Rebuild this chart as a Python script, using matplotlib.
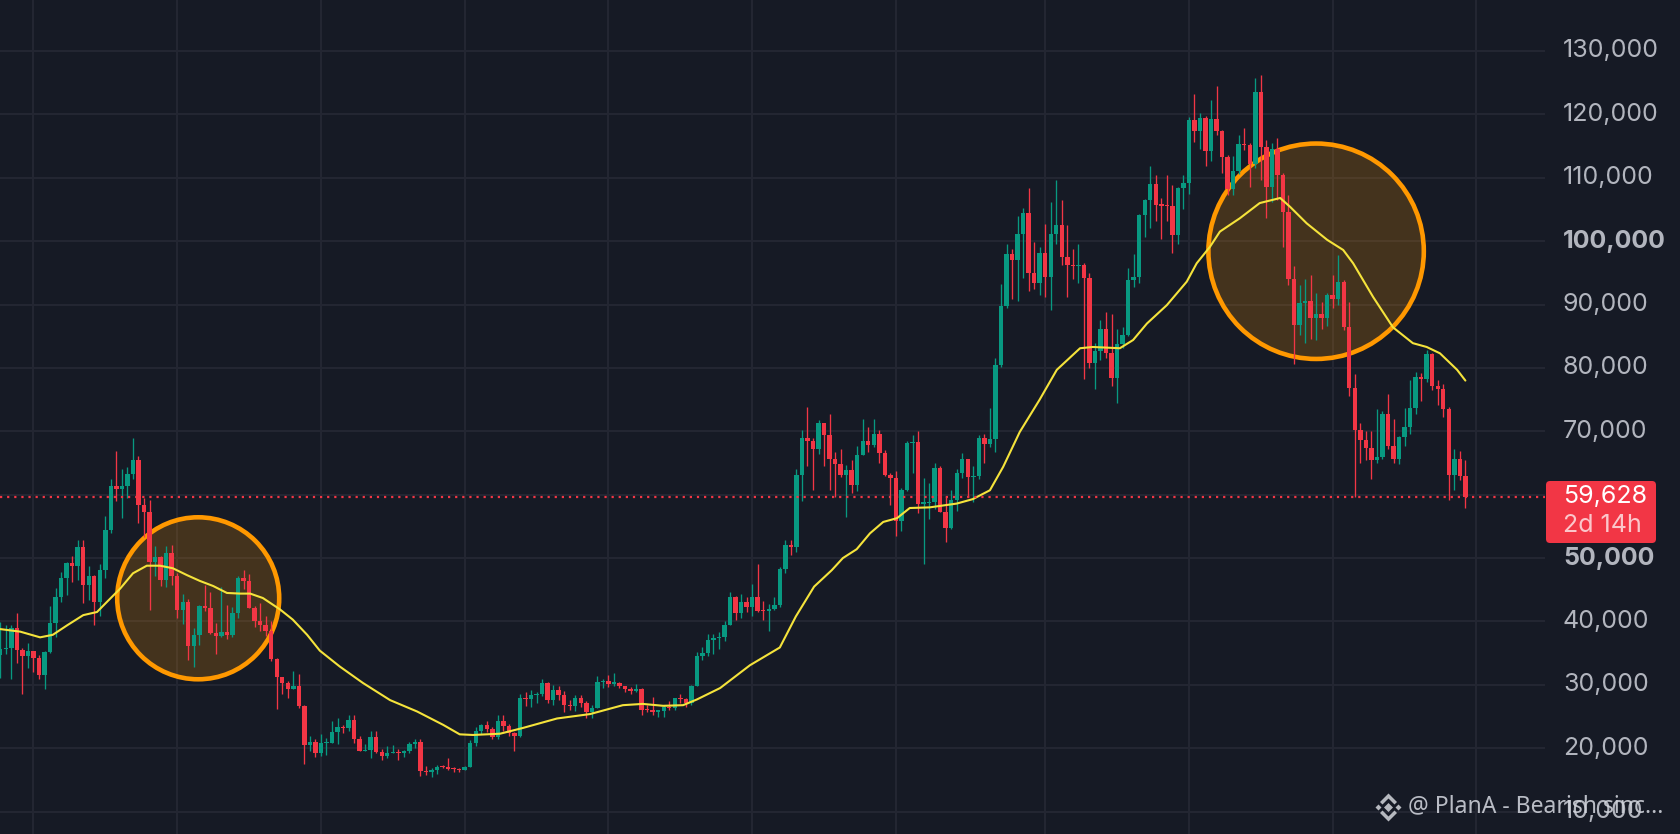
import matplotlib
matplotlib.use("Agg")
import matplotlib.pyplot as plt
import numpy as np
import pandas as pd
from matplotlib.patches import Ellipse, FancyBboxPatch, Polygon
from matplotlib.transforms import blended_transform_factory, IdentityTransform

# weekly candles, prices in thousands of USD, first bar = week of 2021-05-24
opens = [
    34.7, 35.6, 35.8, 39.0, 35.5, 34.5, 35.3, 34.3, 31.6, 35.2,
    39.8, 43.8, 46.8, 49.2, 48.8, 51.8, 45.8, 47.2, 43.0, 48.1,
    54.5, 61.4, 60.9, 61.3, 63.3, 65.5, 58.4, 57.2, 49.4, 50.1,
    46.5, 50.8, 47.2, 41.8, 43.1, 36.2, 37.9, 42.4, 42.2, 38.2,
    37.7, 38.4, 37.8, 41.3, 46.8, 46.4, 42.2, 40.0, 39.4, 38.5,
    34.1, 31.3, 30.3, 29.4, 29.9, 26.6, 20.5, 21.0, 19.2, 20.8,
    20.8, 22.6, 23.3, 23.2, 24.4, 21.5, 19.6, 19.8, 21.8, 19.4,
    18.8, 19.3, 19.4, 19.2, 19.6, 20.6, 21.0, 16.4, 16.3, 16.5,
    17.1, 17.0, 16.8, 16.7, 16.6, 17.1, 20.8, 22.7, 23.7, 23.0,
    21.8, 24.3, 23.5, 22.4, 22.0, 27.9, 27.7, 28.4, 28.5, 30.3,
    27.6, 29.2, 28.4, 26.8, 26.7, 28.0, 27.1, 25.8, 26.3, 30.5,
    30.6, 30.2, 30.3, 29.9, 29.3, 29.0, 29.4, 26.1, 26.0, 25.8,
    25.9, 26.5, 26.3, 27.9, 27.8, 27.1, 29.9, 34.5, 35.0, 37.1,
    37.4, 37.5, 39.5, 43.8, 41.4, 43.0, 42.3, 43.9, 41.7, 41.6,
    42.0, 42.6, 48.3, 52.1, 51.7, 63.1, 68.9, 68.4, 67.2, 71.3,
    69.4, 65.7, 64.9, 63.1, 63.9, 61.5, 66.3, 68.5, 67.8, 69.6,
    66.5, 63.1, 62.7, 55.8, 60.8, 68.2, 68.3, 58.6, 58.7, 58.9,
    64.2, 57.3, 54.8, 59.1, 63.4, 65.6, 62.8, 62.9, 69.0, 68.0,
    68.8, 80.4, 89.8, 98.0, 97.0, 101.1, 104.5, 94.9, 93.4, 98.2,
    94.4, 101.1, 102.5, 97.5, 96.3, 96.0, 96.2, 94.2, 80.7, 82.6,
    86.1, 82.4, 78.4, 83.8, 85.2, 93.8, 94.3, 104.1, 106.5, 109.0,
    105.7, 105.6, 105.5, 100.9, 108.4, 109.2, 119.1, 117.3, 119.4, 114.2,
    119.3, 117.4, 113.3, 108.2, 111.1, 115.3, 115.2, 112.2, 123.5, 114.9,
    108.6, 114.6, 110.4, 104.6, 94.1, 86.7, 90.3, 90.5, 87.8, 88.5,
    87.8, 91.5, 90.8, 93.6, 86.4, 76.8, 70.2, 68.6, 67.3, 65.5,
    66.0, 72.7, 67.7, 65.7, 69.1, 70.6, 73.6, 78.6, 78.3, 82.2,
    77.1, 76.6, 73.5, 63.1, 65.6, 63.0,
]
highs = [
    39.9, 39.5, 39.5, 41.3, 35.8, 36.6, 35.4, 34.7, 35.4, 42.4,
    45.3, 47.8, 49.4, 50.4, 52.9, 52.9, 48.8, 47.4, 49.1, 56.6,
    62.5, 66.9, 64.0, 64.3, 68.9, 66.1, 59.4, 59.2, 51.9, 50.3,
    51.9, 52.1, 47.6, 44.4, 43.5, 38.9, 42.6, 45.8, 44.7, 39.8,
    45.4, 42.6, 42.3, 47.2, 48.2, 47.5, 42.4, 42.9, 40.8, 40.0,
    34.3, 31.3, 30.6, 32.2, 31.7, 26.9, 21.9, 21.5, 22.3, 21.6,
    24.3, 24.7, 23.6, 25.2, 25.2, 22.0, 20.6, 22.8, 22.7, 19.9,
    20.4, 20.5, 19.9, 19.7, 21.0, 21.5, 21.5, 17.2, 16.9, 17.3,
    17.4, 18.4, 17.0, 16.9, 17.2, 21.3, 23.4, 23.9, 24.3, 23.4,
    25.3, 25.2, 23.9, 22.6, 28.5, 28.9, 29.2, 28.8, 31.0, 30.5,
    30.0, 29.8, 29.0, 27.6, 28.4, 28.4, 27.4, 26.8, 31.4, 31.0,
    31.5, 31.8, 30.4, 29.9, 29.6, 30.2, 29.5, 26.8, 28.1, 26.1,
    26.9, 27.5, 28.0, 28.6, 28.0, 30.0, 35.2, 35.9, 38.0, 38.0,
    38.4, 40.0, 44.7, 44.0, 44.4, 43.8, 45.9, 49.0, 43.3, 42.8,
    43.9, 48.6, 52.8, 52.9, 64.0, 70.2, 73.8, 68.9, 71.8, 71.3,
    72.8, 66.8, 67.2, 64.7, 65.5, 67.7, 71.9, 70.6, 71.9, 70.2,
    67.0, 63.4, 63.8, 61.0, 68.4, 69.4, 70.0, 62.7, 61.8, 65.0,
    64.5, 59.8, 60.7, 64.1, 66.5, 65.6, 64.5, 69.4, 69.5, 73.6,
    81.5, 93.3, 99.6, 98.7, 104.0, 105.3, 108.3, 99.9, 99.0, 102.7,
    106.2, 109.6, 106.5, 102.5, 98.8, 99.5, 96.5, 95.0, 84.0, 87.5,
    88.8, 88.5, 86.1, 86.5, 95.8, 97.9, 104.3, 106.7, 111.9, 110.4,
    106.8, 110.5, 108.9, 108.5, 110.5, 119.5, 123.2, 120.2, 119.8, 122.3,
    124.5, 117.6, 113.6, 113.4, 116.7, 117.9, 115.5, 125.7, 126.2, 115.9,
    115.5, 116.2, 110.7, 107.3, 96.0, 93.1, 94.1, 94.7, 91.8, 90.4,
    91.8, 94.7, 97.8, 93.9, 90.4, 79.1, 71.3, 70.0, 70.0, 73.5,
    73.2, 75.9, 71.9, 69.3, 73.6, 78.1, 79.3, 79.2, 82.9, 82.4,
    78.1, 77.5, 73.9, 67.2, 66.9, 65.5,
]
lows = [
    31.1, 34.8, 31.0, 33.4, 28.6, 32.7, 32.1, 31.0, 29.3, 35.1,
    37.6, 43.0, 44.2, 46.3, 46.5, 42.9, 43.4, 39.5, 40.9, 46.9,
    53.9, 59.0, 56.4, 59.4, 62.5, 55.5, 53.4, 41.8, 47.1, 45.6,
    45.5, 45.7, 40.5, 39.6, 34.0, 32.9, 36.3, 41.7, 38.0, 34.8,
    37.5, 37.2, 37.6, 40.5, 45.2, 42.1, 39.2, 38.5, 37.7, 33.7,
    26.2, 28.6, 28.0, 29.3, 26.3, 17.6, 19.6, 18.6, 18.8, 18.9,
    20.8, 20.7, 22.4, 22.7, 20.8, 19.5, 19.5, 18.5, 19.3, 18.1,
    18.5, 19.2, 18.2, 18.7, 19.3, 20.0, 15.6, 15.8, 15.5, 16.0,
    16.9, 16.6, 16.3, 16.3, 16.5, 17.1, 20.4, 22.3, 22.5, 21.4,
    21.4, 22.8, 21.9, 19.5, 21.8, 26.6, 26.5, 27.2, 28.2, 27.1,
    26.9, 27.6, 25.8, 26.1, 25.9, 26.5, 24.8, 24.8, 26.3, 29.5,
    29.7, 29.9, 29.5, 28.9, 28.6, 28.8, 25.2, 25.8, 25.3, 24.9,
    24.9, 26.1, 26.0, 27.2, 26.5, 26.9, 29.8, 33.9, 34.5, 34.8,
    35.6, 36.9, 39.5, 40.2, 40.5, 41.5, 40.8, 41.5, 40.3, 38.5,
    41.8, 42.3, 47.7, 50.5, 50.9, 59.0, 64.5, 60.8, 66.4, 64.5,
    60.7, 59.6, 62.8, 56.5, 60.2, 60.6, 66.3, 66.7, 67.6, 65.0,
    63.0, 58.4, 53.5, 54.3, 60.6, 63.4, 57.1, 49.1, 56.1, 57.8,
    57.2, 52.6, 54.6, 57.5, 62.7, 59.8, 58.9, 62.4, 65.0, 67.5,
    66.8, 80.2, 89.4, 90.8, 90.5, 94.2, 92.2, 92.5, 91.5, 91.2,
    89.2, 99.5, 96.2, 91.2, 94.1, 93.4, 78.2, 80.0, 76.6, 81.3,
    81.6, 77.2, 74.5, 83.1, 85.1, 92.8, 93.4, 100.7, 102.0, 103.1,
    100.4, 103.1, 98.2, 99.6, 105.1, 107.5, 115.7, 114.5, 111.9, 112.6,
    116.8, 110.7, 107.3, 107.3, 110.6, 114.4, 108.6, 111.6, 109.6, 103.6,
    106.2, 106.5, 99.1, 93.1, 80.6, 85.2, 83.9, 84.5, 84.4, 86.2,
    86.6, 89.4, 89.9, 85.9, 75.5, 59.7, 65.0, 65.5, 62.4, 65.0,
    65.6, 67.2, 65.0, 64.9, 67.7, 69.6, 72.8, 74.8, 77.8, 76.5,
    74.2, 72.3, 59.2, 60.7, 62.3, 57.9,
]
closes = [
    35.6, 35.8, 39.0, 35.5, 34.5, 35.3, 34.3, 31.6, 35.2, 39.8,
    43.8, 46.8, 49.2, 48.8, 51.8, 45.8, 47.2, 43.0, 48.1, 54.5,
    61.4, 60.9, 61.3, 63.3, 65.5, 58.4, 57.2, 49.4, 50.1, 46.5,
    50.8, 47.2, 41.8, 43.1, 36.2, 37.9, 42.4, 42.2, 38.2, 37.7,
    38.4, 37.8, 41.3, 46.8, 46.4, 42.2, 40.0, 39.4, 38.5, 34.1,
    31.3, 30.3, 29.4, 29.9, 26.6, 20.5, 21.0, 19.2, 20.8, 20.8,
    22.6, 23.3, 23.2, 24.4, 21.5, 19.6, 19.8, 21.8, 19.4, 18.8,
    19.3, 19.4, 19.2, 19.6, 20.6, 21.0, 16.4, 16.3, 16.5, 17.1,
    17.0, 16.8, 16.7, 16.6, 17.1, 20.8, 22.7, 23.7, 23.0, 21.8,
    24.3, 23.5, 22.4, 22.0, 27.9, 27.7, 28.4, 28.5, 30.3, 27.6,
    29.2, 28.4, 26.8, 26.7, 28.0, 27.1, 25.8, 26.3, 30.5, 30.6,
    30.2, 30.3, 29.9, 29.3, 29.0, 29.4, 26.1, 26.0, 25.8, 25.9,
    26.5, 26.3, 27.9, 27.8, 27.1, 29.9, 34.5, 35.0, 37.1, 37.4,
    37.5, 39.5, 43.8, 41.4, 43.0, 42.3, 43.9, 41.7, 41.6, 42.0,
    42.6, 48.3, 52.1, 51.7, 63.1, 68.9, 68.4, 67.2, 71.3, 69.4,
    65.7, 64.9, 63.1, 63.9, 61.5, 66.3, 68.5, 67.8, 69.6, 66.5,
    63.1, 62.7, 55.8, 60.8, 68.2, 68.3, 58.6, 58.7, 58.9, 64.2,
    57.3, 54.8, 59.1, 63.4, 65.6, 62.8, 62.9, 69.0, 68.0, 68.8,
    80.4, 89.8, 98.0, 97.0, 101.1, 104.5, 94.9, 93.4, 98.2, 94.4,
    101.1, 102.5, 97.5, 96.3, 96.0, 96.2, 94.2, 80.7, 82.6, 86.1,
    82.4, 78.4, 83.8, 85.2, 93.8, 94.3, 104.1, 106.5, 109.0, 105.7,
    105.6, 105.5, 100.9, 108.4, 109.2, 119.1, 117.3, 119.4, 114.2, 119.3,
    117.4, 113.3, 108.2, 111.1, 115.3, 115.2, 112.2, 123.5, 114.9, 108.6,
    114.6, 110.4, 104.6, 94.1, 86.7, 90.3, 90.5, 87.8, 88.5, 87.8,
    91.5, 90.8, 93.6, 86.4, 76.8, 70.2, 68.6, 67.3, 65.5, 66.0,
    72.7, 67.7, 65.7, 69.1, 70.6, 73.6, 78.6, 78.3, 82.2, 77.1,
    76.6, 73.5, 63.1, 65.6, 63.0, 59.628,
]

# yellow moving average at these week positions
ma_weeks = [
    0.0, 3.6, 7.2, 9.5, 12.1, 15.0, 17.5, 19.3, 21.7, 24.0,
    26.5, 28.9, 31.2, 33.8, 36.1, 38.5, 41.0, 43.4, 45.2, 47.5,
    50.6, 52.9, 55.5, 57.8, 61.4, 65.6, 70.5, 75.4, 80.1, 83.1,
    85.5, 90.4, 94.5, 100.7, 106.7, 112.6, 116.2, 119.9, 123.5, 126.0,
    130.2, 135.6, 141.0, 143.9, 147.2, 150.4, 152.4, 154.9, 157.3, 159.7,
    162.2, 164.5, 168.1, 173.0, 175.9, 179.0, 181.4, 184.4, 188.0, 191.1,
    195.3, 197.6, 202.5, 204.9, 207.4, 211.0, 214.6, 216.4, 218.8, 220.6,
    224.2, 227.8, 231.5, 233.3, 236.3, 240.0, 242.9, 244.7, 248.3, 251.9,
    255.5, 258.0, 260.4, 263.5, 265.0,
]
ma_values = [
    38.8, 38.4, 37.5, 37.9, 39.4, 41.0, 41.5, 43.1, 45.2, 47.6,
    48.8, 48.8, 48.4, 47.3, 46.4, 45.6, 44.5, 44.4, 44.4, 43.7,
    41.9, 40.3, 37.9, 35.4, 32.9, 30.3, 27.6, 25.8, 23.7, 22.2,
    22.1, 22.3, 23.2, 24.7, 25.4, 26.8, 27.0, 26.7, 26.8, 27.7,
    29.5, 33.1, 35.9, 40.8, 45.5, 48.1, 50.0, 51.4, 53.9, 55.7,
    56.3, 57.9, 58.0, 58.6, 59.3, 60.7, 64.4, 69.9, 75.0, 79.7,
    83.1, 83.3, 83.1, 84.4, 87.0, 89.9, 93.6, 96.5, 99.1, 101.5,
    103.6, 106.0, 106.8, 105.4, 102.8, 100.2, 98.6, 96.5, 91.2, 86.4,
    83.9, 83.3, 82.3, 79.7, 78.0,
]

price_ticks = [10, 20, 30, 40, 50, 60, 70, 80, 90, 100, 110, 120, 130]
bold_ticks = [50, 100]
last_price = 59.628
countdown = "2d 14h"
watermark = "@ PlanA - Bearish sinc..."

BG = "#161a25"
GRID = "#242733"
UP = "#089981"
DOWN = "#f23645"
MA_COLOR = "#f5e33b"
RING = "#ff9800"
LABEL = "#b2b5be"

plt.rcParams["font.family"] = ["Inter", "DejaVu Sans"]

W, H = 1680, 834
fig = plt.figure(figsize=(W / 100, H / 100), dpi=100, facecolor=BG)
plot_w = 1545
ax = fig.add_axes([0, 0, plot_w / W, 1])
ax.set_facecolor(BG)
x0, x1 = -0.05, 279.4
y0, y1 = 6.48, 138.03
ax.set_xlim(x0, x1)
ax.set_ylim(y0, y1)

# half-year grid lines sit on the first weekly bar of January / July
weeks = pd.date_range("2021-05-24", periods=len(closes) + 4, freq="7D")
grid_x = [i for i in range(1, len(weeks))
          if weeks[i].month in (1, 7) and weeks[i].month != weeks[i - 1].month]
ax.set_xticks(grid_x)
ax.set_yticks(price_ticks)
ax.tick_params(length=0, labelbottom=False, labelleft=False)
ax.grid(True, color=GRID, lw=1.4)
ax.set_axisbelow(True)
for s in ax.spines.values():
    s.set_visible(False)

# highlight circles (kept round on screen)
sx = plot_w / (x1 - x0)
sy = H / (y1 - y0)
for cx, cy, r in [(35.8, 43.66, 81.0), (238.0, 98.4, 107.7)]:
    ax.add_patch(Ellipse((cx, cy), 2 * r / sx, 2 * r / sy,
                         facecolor=(1.0, 0.596, 0.0, 0.2), edgecolor=RING,
                         lw=3.3, zorder=2))

# candles
idx = np.arange(len(closes))
o, h, l, c = (np.array(a) for a in (opens, highs, lows, closes))
colors = np.where(c >= o, UP, DOWN)
ax.vlines(idx, l, h, colors=colors, lw=0.95, zorder=3)
body_lo = np.minimum(o, c)
body_h = np.maximum(np.abs(c - o), 0.18)
ax.bar(idx, body_h, bottom=body_lo, width=0.8, color=colors, lw=0, zorder=4)

ax.plot(ma_weeks, ma_values, color=MA_COLOR, lw=1.5, zorder=5,
        solid_joinstyle="round", solid_capstyle="round")
ax.axhline(last_price, color=DOWN, lw=1.6, linestyle=(0, (1, 2.2)), zorder=5)

# price scale labels
tr = blended_transform_factory(fig.transFigure, ax.transData)
for v in price_ticks:
    ax.text(1563 / W, v, f"{v * 1000:,.0f}", transform=tr, ha="left", va="center",
            fontsize=18, color=LABEL, clip_on=False,
            fontweight="bold" if v in bold_ticks else "normal")

# last price tag
box = FancyBboxPatch((1546, H - 543), 110, 62, boxstyle="round,pad=0,rounding_size=4",
                     facecolor=DOWN, edgecolor="none", transform=IdentityTransform(), zorder=5)
fig.add_artist(box)
fig.text(1563 / W, 1 - 497 / H, f"{last_price * 1000:,.0f}", color="white",
         fontsize=18, va="center", ha="left", zorder=6)
fig.text(1563 / W, 1 - 525 / H, countdown, color=(1, 1, 1, 0.72),
         fontsize=18, va="center", ha="left", zorder=6)

# watermark with logo
def px(x, y):
    return (x / W, 1 - y / H)

cx, cy = 1388.5, 807.5
logo = [
    [(cx, cy - 4.5), (cx + 4.5, cy), (cx, cy + 4.5), (cx - 4.5, cy)],
    [(cx - 10, cy - 3), (cx - 7, cy), (cx - 10, cy + 3), (cx - 13, cy)],
    [(cx + 10, cy - 3), (cx + 13, cy), (cx + 10, cy + 3), (cx + 7, cy)],
]
chev = [(0, -14), (8.5, -5.5), (6, -3), (0, -9), (-6, -3), (-8.5, -5.5)]
logo.append([(cx + dx, cy + dy) for dx, dy in chev])
logo.append([(cx + dx, cy - dy) for dx, dy in chev])
for pts in logo:
    fig.add_artist(Polygon([px(*p) for p in pts], closed=True, facecolor="#c9cbd1",
                           edgecolor="none", alpha=0.9, transform=fig.transFigure, zorder=7))
fig.text(1408 / W, 1 - 806 / H, watermark, color="#d1d4dc", alpha=0.88, fontsize=16.5,
         va="center", ha="left", family=["Noto Sans", "DejaVu Sans"], zorder=7)

fig.savefig("out.png", dpi=100, facecolor=BG)
